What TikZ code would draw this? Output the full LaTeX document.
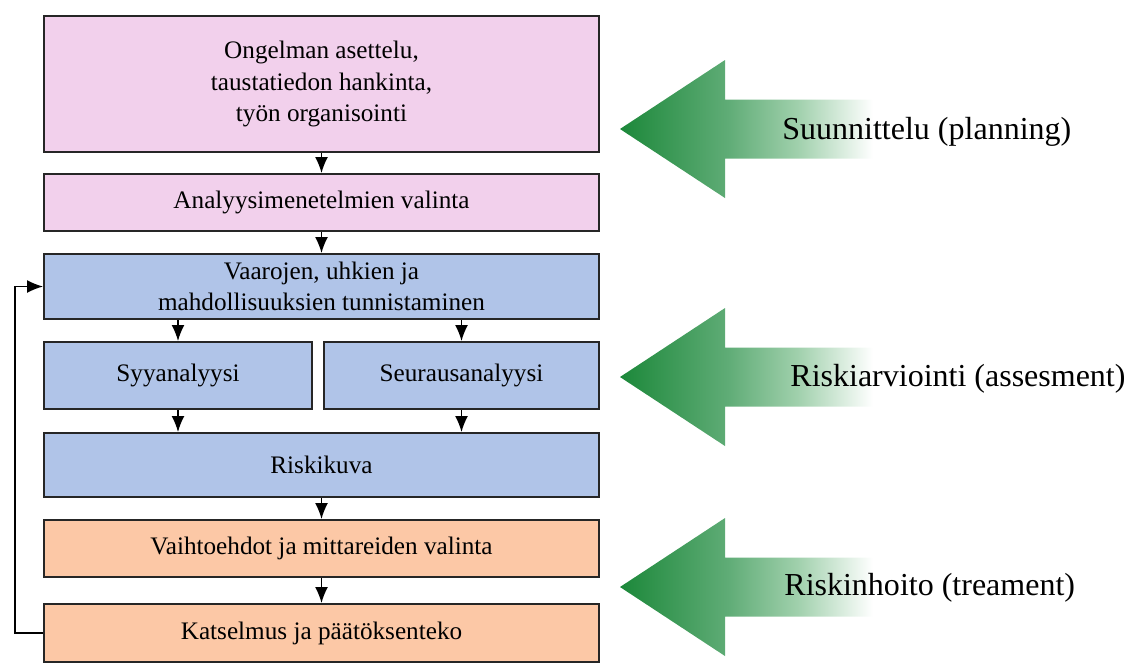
\documentclass[tikz,border=0pt]{standalone}
\usepackage{fontspec}
\setmainfont{Liberation Serif}
\usetikzlibrary{arrows.meta}

\definecolor{planpink}{RGB}{242,208,236}
\definecolor{assessblue}{RGB}{176,196,232}
\definecolor{treatorange}{RGB}{252,200,166}
\definecolor{arrowdark}{RGB}{28,136,58}
\definecolor{arrowmid}{RGB}{95,172,118}
\definecolor{arrowlight}{RGB}{160,208,172}
\pgfdeclarehorizontalshading{greenfade}{100bp}{color(0bp)=(arrowdark); color(25bp)=(arrowdark);
  color(45bp)=(arrowmid); color(58bp)=(arrowlight); color(72bp)=(white); color(100bp)=(white)}

\begin{document}
\begin{tikzpicture}[x=0.5pt,y=-0.5pt,
  box/.style={draw=black!85,line width=1pt,inner sep=0pt,align=center,
    font=\fontsize{12.6}{15.8}\selectfont,minimum width=277.5pt},
  flow/.style={-{Latex[length=8pt,width=6.5pt]},line width=0.75pt},
  phase/.style={anchor=base west,inner sep=0pt,font=\fontsize{16}{19}\selectfont}]
\useasboundingbox (0,0) rectangle (1133,666);

\node [box,fill=planpink,minimum height=68pt] (b1) at (321.5,84)
  {Ongelman asettelu,\\taustatiedon hankinta,\\työn organisointi};
\node [box,fill=planpink,minimum height=28.5pt] (b2) at (321.5,202.5) {Analyysimenetelmien valinta};
\node [box,fill=assessblue,minimum height=32.5pt] (b3) at (321.5,286.5)
  {Vaarojen, uhkien ja\\mahdollisuuksien tunnistaminen};
\node [box,fill=assessblue,minimum height=33.5pt,minimum width=134pt] (b4) at (178,375.5) {Syyanalyysi};
\node [box,fill=assessblue,minimum height=33.5pt,minimum width=137.5pt] (b5) at (461.5,375.5) {Seurausanalyysi};
\node [box,fill=assessblue,minimum height=32pt] (b6) at (321.5,465) {Riskikuva};
\node [box,fill=treatorange,minimum height=28.5pt] (b7) at (321.5,548.5) {Vaihtoehdot ja mittareiden valinta};
\node [box,fill=treatorange,minimum height=29pt] (b8) at (321.5,633) {Katselmus ja päätöksenteko};

\draw [flow] (b1) -- (b2);
\draw [flow] (b2) -- (b3);
\draw [flow] (b4.north |- b3.south) -- (b4.north);
\draw [flow] (b5.north |- b3.south) -- (b5.north);
\draw [flow] (b4.south) -- (b4.south |- b6.north);
\draw [flow] (b5.south) -- (b5.south |- b6.north);
\draw [flow] (b6) -- (b7);
\draw [flow] (b7) -- (b8);
\draw [flow] (b8.west) -- ++(-28,0) |- (b3.west);

\foreach \y/\base/\x/\nm/\txt in {129/139/782/plan/Suunnittelu (planning),
    377/386/790/assess/Riskiarviointi (assesment),
    587/595/784/treat/Riskinhoito (treament)} {
  \shade [shading=greenfade] (620,\y) -- (725,\y-69) -- (725,\y-29.5) -- (889,\y-29.5)
    -- (889,\y+29.5) -- (725,\y+29.5) -- (725,\y+69) -- cycle;
  \node [phase] (\nm) at (\x,\base) {\txt};
}
\end{tikzpicture}
\end{document}
